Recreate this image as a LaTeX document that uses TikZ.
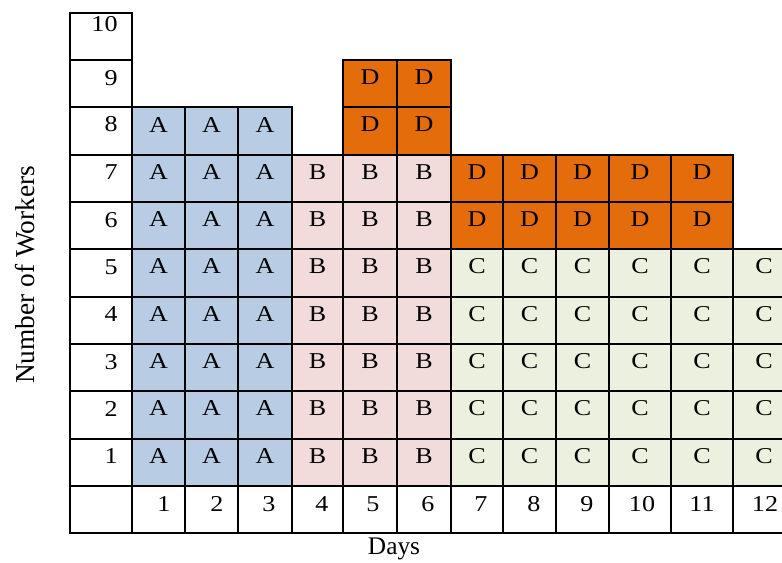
\documentclass[tikz,border=0pt]{standalone}
\usepackage{fontspec}
\setmainfont{Liberation Serif}
\definecolor{cA}{RGB}{184,204,228}
\definecolor{cB}{RGB}{242,220,219}
\definecolor{cC}{RGB}{235,241,222}
\definecolor{cD}{RGB}{228,108,10}
\newcommand{\wide}[1]{\scalebox{1.15}[1]{#1}}
\newcommand{\wcell}[6]{%
  \pgfmathsetmacro\yt{12.7+(10-#4)*47.33}%
  \pgfmathsetmacro\yb{\yt+47.33}%
  \draw[grid, fill=#5] (#2,\yt) rectangle (#3,\yb);
  \node[lbl] (#1) at ({(#2+#3)/2},{(\yt+\yb)/2-6.5}) {\wide{#6}};
}
\begin{document}
\begin{tikzpicture}[x=0.75pt,y=-0.75pt,
  font=\fontsize{17}{20}\selectfont,
  grid/.style={draw=black,line width=1.3pt},
  lbl/.style={inner sep=0pt}]
\useasboundingbox (0,0) rectangle (782,563);
\clip (0,0) rectangle (782,563);
% A
\foreach \d/\xa/\xb in {1/132/185,2/185/238,3/238/292}{
  \foreach \r in {1,...,8}{\wcell{A\d-\r}{\xa}{\xb}{\r}{cA}{A}}}
% B
\foreach \d/\xa/\xb in {4/292/343,5/343/397,6/397/451}{
  \foreach \r in {1,...,7}{\wcell{B\d-\r}{\xa}{\xb}{\r}{cB}{B}}}
% D top
\foreach \d/\xa/\xb in {5/343/397,6/397/451}{
  \foreach \r in {8,9}{\wcell{D\d-\r}{\xa}{\xb}{\r}{cD}{D}}}
% C
\foreach \d/\xa/\xb in {7/451/503,8/503/556,9/556/609,10/609/671,11/671/733,12/733/795}{
  \foreach \r in {1,...,5}{\wcell{C\d-\r}{\xa}{\xb}{\r}{cC}{C}}}
% D middle
\foreach \d/\xa/\xb in {7/451/503,8/503/556,9/556/609,10/609/671,11/671/733}{
  \foreach \r in {6,7}{\wcell{D\d-\r}{\xa}{\xb}{\r}{cD}{D}}}
% left column
\foreach \r/\dy in {1/6,2/6,3/6,4/6,5/6,6/6,7/6,8/6.5,9/6,10/12.6}{
  \pgfmathsetmacro\yt{12.7+(10-\r)*47.33}
  \pgfmathsetmacro\yb{\yt+47.33}
  \draw[grid, fill=white] (70,\yt) rectangle (132,\yb);
  \node[lbl, anchor=east] (row\r) at (117.8,{(\yt+\yb)/2-\dy}) {\wide{\r}};
}
\draw[grid, fill=white] (70,486) rectangle (132,533.3);
% day row
\foreach \d/\xa/\xb/\xt in {1/132/185/164,2/185/238/217,3/238/292/269,4/292/343/322,5/343/397/373,6/397/451/428,7/451/503/481,8/503/556/534,9/556/609/587,10/609/671/642,11/671/733/702,12/733/795/765}{
  \draw[grid, fill=white] (\xa,486) rectangle (\xb,533.3);
  \node[lbl] (day\d) at (\xt,504) {\wide{\d}};
}
\node[lbl, rotate=90] (ylab) at (25,275) {\fontsize{20.5}{24}\selectfont Number of Workers};
\node[lbl] (xlab) at (394,549) {\fontsize{19}{22}\selectfont Days};
\end{tikzpicture}
\end{document}
